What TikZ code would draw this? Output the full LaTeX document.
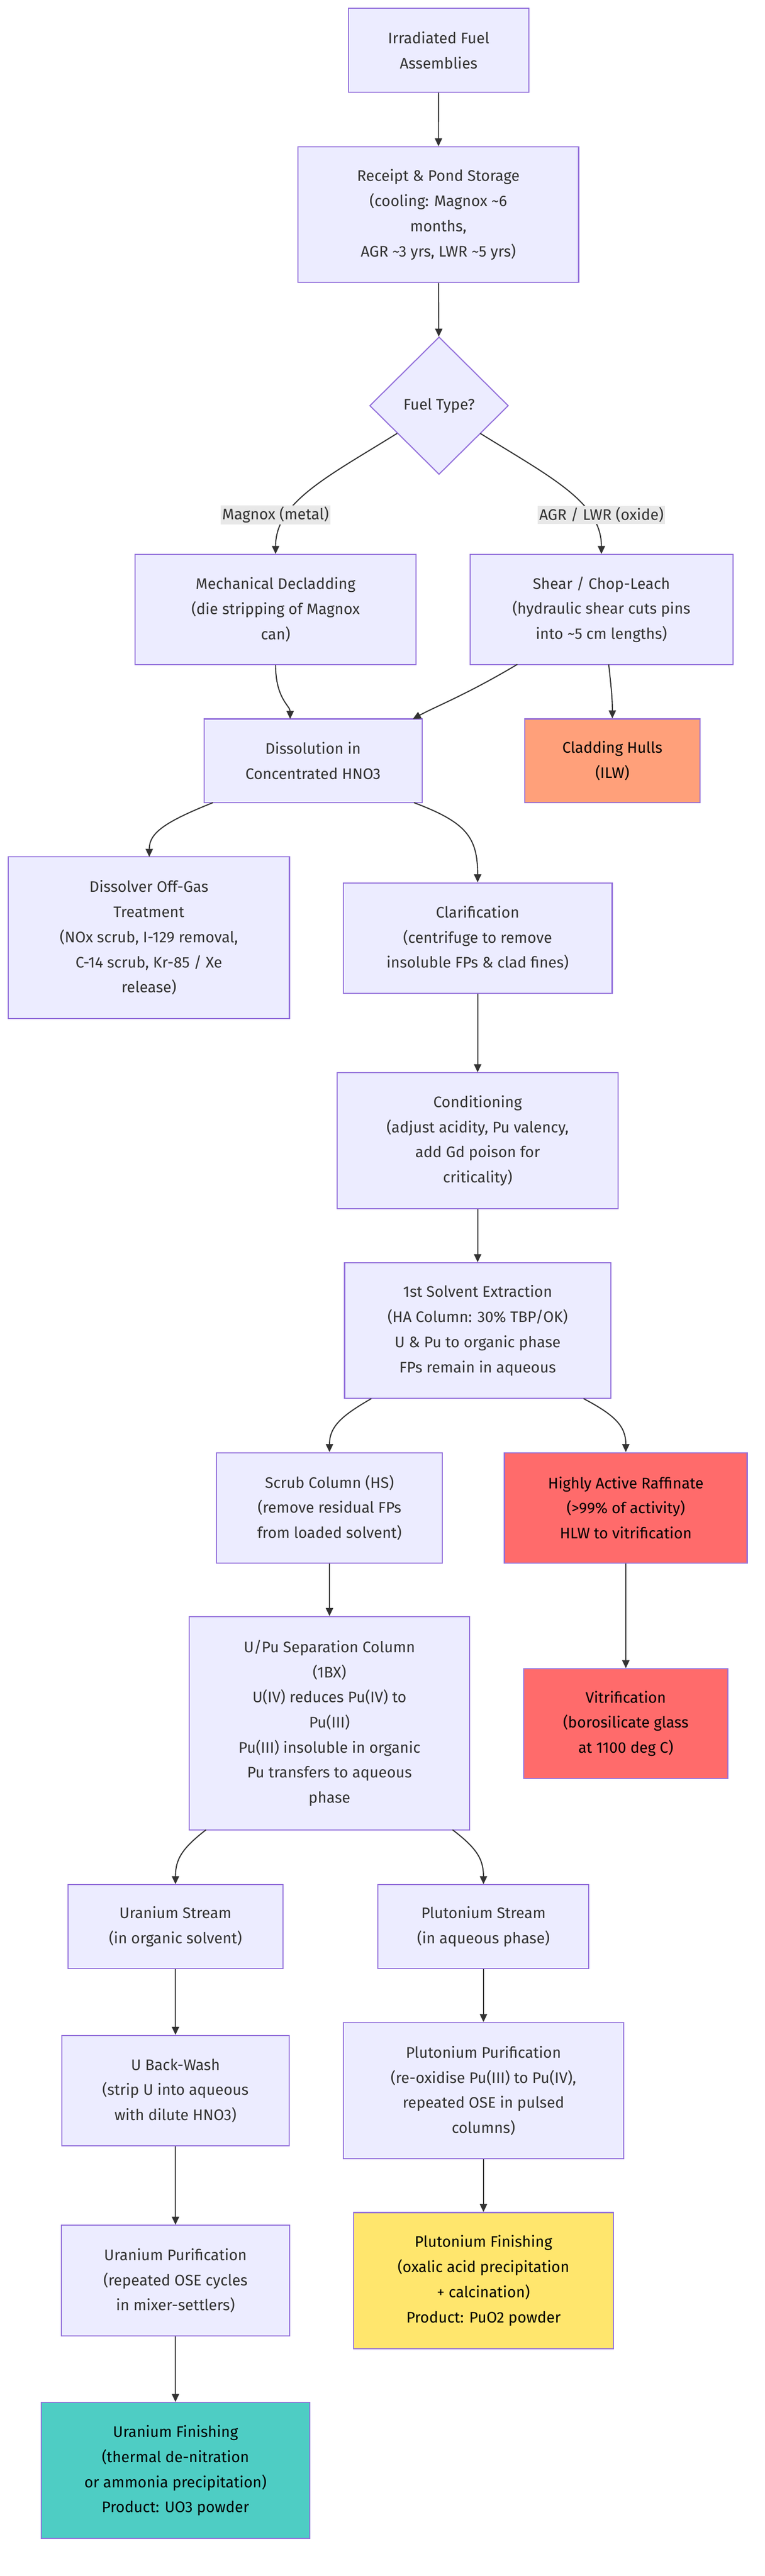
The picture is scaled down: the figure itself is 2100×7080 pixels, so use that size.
\documentclass[tikz,border=0pt]{standalone}
\usepackage{fontspec}
\setmainfont{Fira Sans}
\usetikzlibrary{shapes.geometric,arrows.meta}
\definecolor{nfill}{HTML}{ECECFF}
\definecolor{nborder}{HTML}{9370DB}
\definecolor{ntext}{HTML}{333333}
\definecolor{edgec}{HTML}{333333}
\definecolor{lblbg}{HTML}{E8E8E8}
\definecolor{salmon}{HTML}{FFA07A}
\definecolor{redc}{HTML}{FF6B6B}
\definecolor{yellowc}{HTML}{FFE66D}
\definecolor{tealc}{HTML}{4ECDC4}
\tikzset{
  x=1pt,y=-1pt,
  box/.style={draw=nborder,fill=nfill,line width=3pt,text=ntext,align=center,
    font=\fontsize{42}{69}\selectfont,inner sep=0pt},
  hot/.style={box,text=black},
  dia/.style={box,diamond,aspect=1,minimum width=381pt,minimum height=378pt},
  edge/.style={draw=edgec,line width=3pt,-{Triangle[length=22pt,width=20pt]}},
  elabel/.style={fill=lblbg,text=ntext,font=\fontsize{42}{69}\selectfont,inner sep=4pt}
}
\newcommand{\bx}[7]{\node[#1,minimum width=#4pt,minimum height=#5pt] (#2) at (#3) {#6};}
\begin{document}
\begin{tikzpicture}
\useasboundingbox (0,0) rectangle (2100,7080);
\fill[white] (0,0) rectangle (2100,7080);
\node[box,minimum width=495pt,minimum height=231pt] (irr) at (1205,138) {Irradiated Fuel\\Assemblies};
\node[box,minimum width=771pt,minimum height=373pt] (rec) at (1204,590) {Receipt \& Pond Storage\\(cooling: Magnox \textasciitilde6\\months,\\AGR \textasciitilde3 yrs, LWR \textasciitilde5 yrs)};
\node[dia] (ft) at (1206,1115) {Fuel Type?};
\node[box,minimum width=771pt,minimum height=302pt] (mech) at (757,1675) {Mechanical Decladding\\(die stripping of Magnox\\can)};
\node[box,minimum width=722pt,minimum height=302pt] (shear) at (1652,1675) {Shear / Chop-Leach\\(hydraulic shear cuts pins\\into \textasciitilde5 cm lengths)};
\node[box,minimum width=599pt,minimum height=230pt] (diss) at (860,2091) {Dissolution in\\Concentrated HNO3};
\node[hot,fill=salmon,minimum width=481pt,minimum height=230pt] (hull) at (1682,2091) {Cladding Hulls\\(ILW)};
\node[box,minimum width=772pt,minimum height=444pt] (gas) at (409,2577) {Dissolver Off-Gas\\Treatment\\(NOx scrub, I-129 removal,\\C-14 scrub, Kr-85 / Xe\\release)};
\node[box,minimum width=739pt,minimum height=303pt] (clar) at (1312,2578) {Clarification\\(centrifuge to remove\\insoluble FPs \& clad fines)};
\node[box,minimum width=771pt,minimum height=373pt] (cond) at (1312,3135) {Conditioning\\(adjust acidity, Pu valency,\\add Gd poison for\\criticality)};
\node[box,minimum width=731pt,minimum height=373pt] (sx) at (1312,3657) {1st Solvent Extraction\\(HA Column: 30\% TBP/OK)\\U \& Pu to organic phase\\FPs remain in aqueous};
\node[box,minimum width=621pt,minimum height=303pt] (scrub) at (905,4144) {Scrub Column (HS)\\(remove residual FPs\\from loaded solvent)};
\node[hot,fill=redc,minimum width=667pt,minimum height=303pt] (har) at (1719,4144) {Highly Active Raffinate\\(>99\% of activity)\\HLW to vitrification};
\node[box,minimum width=771pt,minimum height=586pt] (upu) at (905,4736) {U/Pu Separation Column\\(1BX)\\U(IV) reduces Pu(IV) to\\Pu(III)\\Pu(III) insoluble in organic\\Pu transfers to aqueous\\phase};
\node[hot,fill=redc,minimum width=560pt,minimum height=301pt] (vit) at (1719,4737) {Vitrification\\(borosilicate glass\\at 1100 deg C)};
\node[box,minimum width=591pt,minimum height=230pt] (us) at (482,5295) {Uranium Stream\\(in organic solvent)};
\node[box,minimum width=579pt,minimum height=230pt] (ps) at (1328,5295) {Plutonium Stream\\(in aqueous phase)};
\node[box,minimum width=624pt,minimum height=304pt] (ubw) at (482,5746) {U Back-Wash\\(strip U into aqueous\\with dilute HNO3)};
\node[box,minimum width=771pt,minimum height=374pt] (ppur) at (1328,5746) {Plutonium Purification\\(re-oxidise Pu(III) to Pu(IV),\\repeated OSE in pulsed\\columns)};
\node[box,minimum width=628pt,minimum height=304pt] (upur) at (482,6268) {Uranium Purification\\(repeated OSE cycles\\in mixer-settlers)};
\node[hot,fill=yellowc,minimum width=713pt,minimum height=374pt] (pfin) at (1328,6268) {Plutonium Finishing\\(oxalic acid precipitation\\+ calcination)\\Product: PuO2 powder};
\node[hot,fill=tealc,minimum width=738pt,minimum height=374pt] (ufin) at (482,6790) {Uranium Finishing\\(thermal de-nitration\\or ammonia precipitation)\\Product: UO3 powder};
% edges
\draw[edge] (irr) -- (rec);
\draw[edge] (rec) -- (ft);
\draw[edge] (ft.south west) ++(0,0) (1091,1191) .. controls (900,1310) and (757,1380) .. (mech.north);
\draw[edge] (1319,1191) .. controls (1510,1310) and (1652,1380) .. (shear.north);
\node[elabel] (la) at (757,1415) {Magnox (metal)};
\node[elabel] (lb) at (1652,1415) {AGR / LWR (oxide)};
\draw[edge] (mech.south) .. controls (757,1920) and (797,1940) .. (797,1976);
\draw[edge] (1421,1826) .. controls (1280,1910) and (1200,1940) .. (1134,1976);
\draw[edge] (1672,1826) .. controls (1680,1900) and (1682,1920) .. (hull.north);
\draw[edge] (585,2206) .. controls (450,2260) and (410,2290) .. (410,2355);
\draw[edge] (1137,2206) .. controls (1280,2260) and (1312,2300) .. (clar.north);
\draw[edge] (clar) -- (cond);
\draw[edge] (cond) -- (sx);
\draw[edge] (1020,3844) .. controls (940,3890) and (905,3920) .. (scrub.north);
\draw[edge] (1603,3844) .. controls (1690,3890) and (1719,3920) .. (har.north);
\draw[edge] (scrub) -- (upu);
\draw[edge] (har) -- (vit);
\draw[edge] (566,5029) .. controls (500,5080) and (482,5110) .. (us.north);
\draw[edge] (1243,5029) .. controls (1310,5080) and (1328,5110) .. (ps.north);
\draw[edge] (us) -- (ubw);
\draw[edge] (ubw) -- (upur);
\draw[edge] (upur) -- (ufin);
\draw[edge] (ps) -- (ppur);
\draw[edge] (ppur) -- (pfin);
\end{tikzpicture}
\end{document}
